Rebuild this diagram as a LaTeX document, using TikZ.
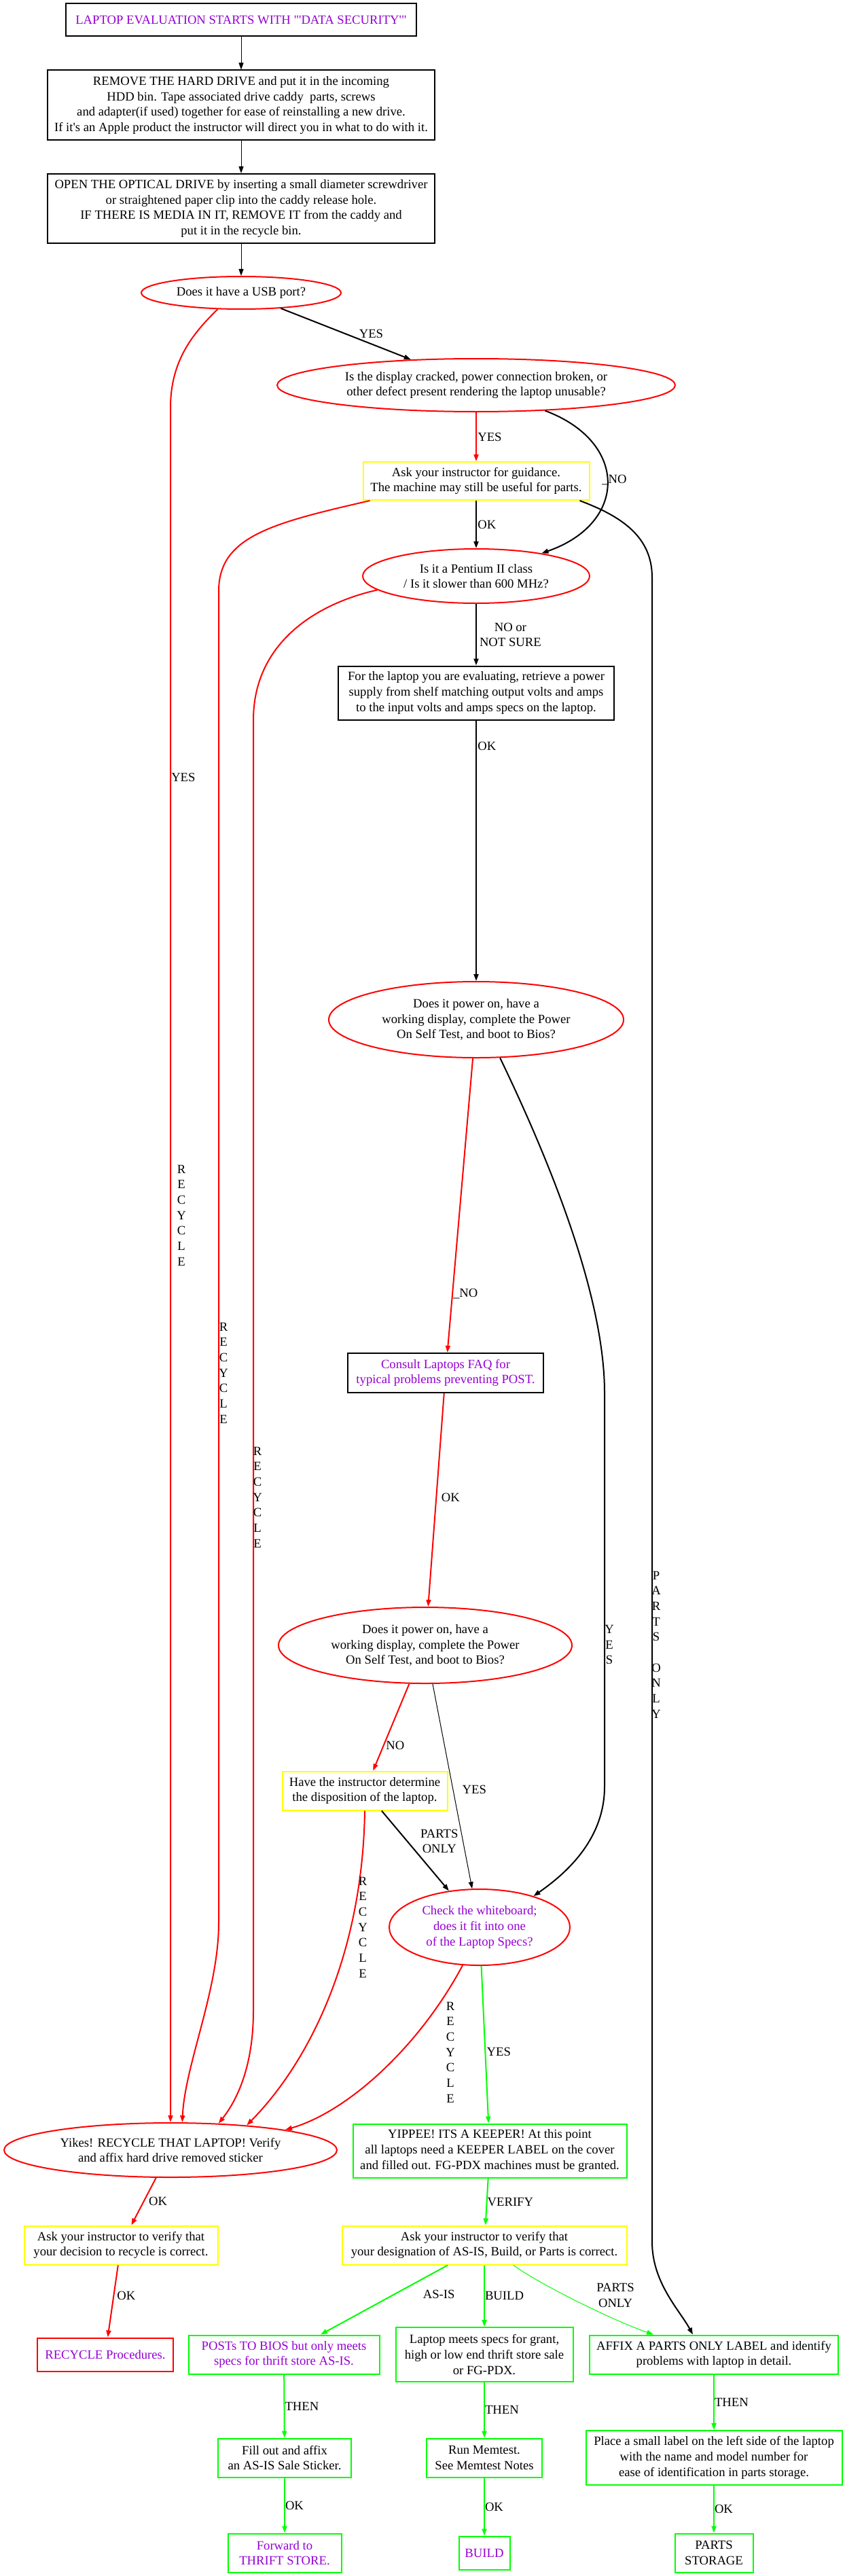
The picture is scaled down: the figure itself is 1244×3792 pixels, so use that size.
\documentclass[tikz,border=0pt]{standalone}
\usepackage{fontspec}
\newfontfamily\gvfont{Liberation Serif}
\usetikzlibrary{arrows.meta,shapes.geometric}
\definecolor{gvpurple}{HTML}{9400D3}
\definecolor{gvgreen}{HTML}{00FF00}
\definecolor{gvyellow}{HTML}{FFFF00}
\definecolor{gvred}{HTML}{FF0000}
\newcommand{\recycleword}{R\\E\\C\\Y\\C\\L\\E}

\begin{document}
\begin{tikzpicture}[x=0.75pt, y=-0.75pt,
    every node/.style={font=\gvfont\fontsize{14}{17}\selectfont, inner sep=0pt, align=center},
    box/.style={draw=#1, rectangle, line width=1.5pt},
    oval/.style={draw=gvred, ellipse, line width=1.5pt},
    hot/.style={text=gvpurple},
    link/.style={draw=#1, line width=1.5pt, -{Triangle[length=7.5pt,width=5.25pt]}},
    thinlink/.style={draw=#1, line width=0.75pt, -{Triangle[length=7.5pt,width=5.25pt]}},
    lbl/.style={inner sep=0pt}]
    \useasboundingbox (0,0) rectangle (1244,3792);

    % data security
    \node[box=black, hot, minimum width=387pt, minimum height=36pt] (start) at (355,29) {LAPTOP EVALUATION STARTS WITH "'DATA SECURITY'"};
    \node[box=black, minimum width=427.5pt, minimum height=77.25pt] (remove) at (355,155) {REMOVE THE HARD DRIVE and put it in the incoming\\ HDD bin. Tape associated drive caddy~ parts, screws\\ and adapter(if used) together for ease of reinstalling a new drive.\\ If it's an Apple product the instructor will direct you in what to do with it.};
    \node[box=black, minimum width=427.5pt, minimum height=76.5pt] (optical) at (355,307) {OPEN THE OPTICAL DRIVE by inserting a small diameter screwdriver\\ or straightened paper clip into the caddy release hole.\\ IF THERE IS MEDIA IN IT, REMOVE IT from the caddy and\\ put it in the recycle bin.};
    \node[oval, minimum width=220.5pt, minimum height=36pt] (usb) at (355,431) {Does it have a USB port?};

    % checks
    \node[oval, minimum width=439.5pt, minimum height=58.5pt] (display) at (701,567) {Is the display cracked, power connection broken, or\\ other defect present rendering the laptop unusable?};
    \node[box=gvyellow, minimum width=249.75pt, minimum height=42pt] (askguide) at (701,708) {Ask your instructor for guidance.\\ The machine may still be useful for parts.};
    \node[oval, minimum width=250.5pt, minimum height=60pt] (pentium) at (701,848) {Is it a Pentium II class\\ / Is it slower than 600 MHz?};
    \node[box=black, minimum width=304.5pt, minimum height=59.25pt] (power) at (701,1020) {For the laptop you are evaluating, retrieve a power\\ supply from shelf matching output volts and amps\\ to the input volts and amps specs on the laptop.};
    \node[oval, minimum width=325.5pt, minimum height=84pt] (postone) at (701,1501) {Does it power on, have a\\ working display, complete the Power\\ On Self Test, and boot to Bios?};
    \node[box=black, hot, minimum width=216pt, minimum height=43.5pt] (consult) at (656,2021) {Consult Laptops FAQ for\\ typical problems preventing POST.};
    \node[oval, minimum width=324pt, minimum height=84pt] (posttwo) at (626,2422) {Does it power on, have a\\ working display, complete the Power\\ On Self Test, and boot to Bios?};
    \node[box=gvyellow, minimum width=182.25pt, minimum height=42.75pt] (have) at (537,2636) {Have the instructor determine\\ the disposition of the laptop.};
    \node[oval, hot, minimum width=199.5pt, minimum height=84pt] (board) at (706,2837) {Check the whiteboard;\\ does it fit into one\\ of the Laptop Specs?};

    % outcomes
    \node[oval, minimum width=367.5pt, minimum height=60pt] (yikes) at (251,3165) {Yikes! RECYCLE THAT LAPTOP! Verify\\ and affix hard drive removed sticker};
    \node[box=gvgreen, minimum width=302.25pt, minimum height=59.25pt] (keeper) at (721,3166) {YIPPEE! ITS A KEEPER! At this point\\ all laptops need a KEEPER LABEL on the cover\\ and filled out. FG-PDX machines must be granted.};
    \node[box=gvyellow, minimum width=213.75pt, minimum height=42.75pt] (verifyone) at (178,3305) {Ask your instructor to verify that\\ your decision to recycle is correct.};
    \node[box=gvyellow, minimum width=314.25pt, minimum height=42.75pt] (verifytwo) at (713,3305) {Ask your instructor to verify that\\ your designation of AS-IS, Build, or Parts is correct.};
    \node[box=gvred, hot, minimum width=150pt, minimum height=36.75pt] (recproc) at (155,3466) {RECYCLE Procedures.};
    \node[box=gvgreen, hot, minimum width=210.75pt, minimum height=42.75pt] (asis) at (418,3466) {POSTs TO BIOS but only meets\\ specs for thrift store AS-IS.};
    \node[box=gvgreen, minimum width=195.75pt, minimum height=60pt] (meets) at (713,3466) {Laptop meets specs for grant,\\ high or low end thrift store sale\\ or FG-PDX.};
    \node[box=gvgreen, minimum width=274.5pt, minimum height=42.75pt] (affix) at (1051,3466) {AFFIX A PARTS ONLY LABEL and identify\\ problems with laptop in detail.};
    \node[box=gvgreen, minimum width=147pt, minimum height=42.75pt] (fillout) at (419,3618) {Fill out and affix\\ an AS-IS Sale Sticker.};
    \node[box=gvgreen, minimum width=127.5pt, minimum height=42.75pt] (memtest) at (713,3618) {Run Memtest.\\ See Memtest Notes};
    \node[box=gvgreen, minimum width=282.75pt, minimum height=60pt] (placelabel) at (1051,3618) {Place a small label on the left side of the laptop\\ with the name and model number for\\ ease of identification in parts storage.};
    \node[box=gvgreen, hot, minimum width=125.25pt, minimum height=42.75pt] (thrift) at (419,3758) {Forward to\\ THRIFT STORE.};
    \node[box=gvgreen, hot, minimum width=56.25pt, minimum height=36.75pt] (build) at (713,3758) {BUILD};
    \node[box=gvgreen, minimum width=86.25pt, minimum height=42.75pt] (storage) at (1051,3758) {PARTS\\ STORAGE};

    % straight connectors
    \draw[thinlink=black] (start) -- (remove);
    \draw[thinlink=black] (remove) -- (optical);
    \draw[thinlink=black] (optical) -- (usb);
    \draw[link=black] (usb) -- (display) node[pos=.5, right=14pt] {YES};
    \draw[link=gvred] (display) -- (askguide) node[pos=.5, right=1pt] {YES};
    \draw[link=black] (askguide) -- (pentium) node[pos=.5, right=1pt] {OK};
    \draw[link=black] (pentium) -- (power) node[pos=.5, right=3pt] {NO or\\ NOT SURE};
    \draw[link=black] (power) -- (postone) node[pos=.1, right=1pt] {OK};
    \draw[link=gvred] (postone) -- (consult) node[pos=.8, right=0pt] {\_NO};
    \draw[link=gvred] (consult) -- (posttwo) node[pos=.49, right=5pt] {OK};
    \draw[link=gvred] (posttwo) -- (have) node[pos=.71, right=2pt] {NO};
    \draw[thinlink=black] (posttwo) -- (board) node[pos=.515, right=10pt] {YES};
    \draw[link=black] (have) -- (board) node[pos=.38, right=14pt] {PARTS\\ ONLY};
    \draw[link=gvgreen] (board) -- (keeper) node[pos=.547, right=1pt] {YES};
    \draw[link=gvred] (yikes) -- (verifyone) node[pos=.5, right=5pt] {OK};
    \draw[link=gvgreen] (keeper) -- (verifytwo) node[pos=.5, right=0pt] {VERIFY};
    \draw[link=gvred] (verifyone) -- (recproc) node[pos=.42, right=3pt] {OK};
    \draw[link=gvgreen] (verifytwo) -- (asis) node[pos=.42, right=31pt] {AS-IS};
    \draw[link=gvgreen] (verifytwo) -- (meets) node[pos=.5, right=0pt] {BUILD};
    \draw[link=gvgreen] (asis) -- (fillout) node[pos=.5, right=0pt] {THEN};
    \draw[link=gvgreen] (meets) -- (memtest) node[pos=.5, right=0pt] {THEN};
    \draw[link=gvgreen] (affix) -- (placelabel) node[pos=.5, right=0pt] {THEN};
    \draw[link=gvgreen] (fillout) -- (thrift) node[pos=.5, right=0pt] {OK};
    \draw[link=gvgreen] (memtest) -- (build) node[pos=.5, right=0pt] {OK};
    \draw[link=gvgreen] (placelabel) -- (storage) node[pos=.5, right=0pt] {OK};

    % curved connectors
    \draw[link=black] (display) .. controls (925,650) and (925,770) .. (pentium);
    \draw[link=black] ([xshift=-11.25pt]askguide.south east) .. controls (915,760) and (960,790) .. (960,850) -- (960,3300) .. controls (960,3360) and (1000,3400) .. ([xshift=-23.25pt]affix.north);
    \draw[thinlink=gvgreen] ([xshift=32.25pt]verifytwo.south) .. controls (790,3360) and (900,3415) .. ([xshift=-66.75pt]affix.north);
    \draw[link=black] (postone.302) .. controls (800,1690) and (890,1900) .. (890,2050) -- (890,2630) .. controls (890,2710) and (830,2760) .. (board.30);
    \draw[link=gvred] (usb.215) .. controls (285,490) and (251,530) .. (251,600) -- (yikes.north);
    \draw[link=gvred] ([xshift=8.25pt]askguide.south west) .. controls (400,770) and (322,790) .. (322,870) -- (322,2830) .. controls (322,2930) and (272,3040) .. (yikes.67);
    \draw[link=gvred] (pentium.188) .. controls (460,890) and (373,950) .. (373,1060) -- (373,2960) .. controls (373,3040) and (350,3090) .. (yikes.29);
    \draw[link=gvred] (have.south) .. controls (534,2870) and (460,3030) .. (yikes.18);
    \draw[link=gvred] (board.246) .. controls (620,3008) and (516,3107) .. (yikes.10);

    % labels of the curved connectors
    \node[lbl, anchor=west] (lblNoDisplay) at (886,707) {\_NO};
    \node[lbl, anchor=west] (lblYesUsb) at (252,1144) {YES};
    \node[lbl] (lblRecUsb) at (267,1789) {\recycleword};
    \node[lbl] (lblRecAsk) at (329,2021) {\recycleword};
    \node[lbl] (lblRecPentium) at (379,2204) {\recycleword};
    \node[lbl] (lblRecHave) at (534,2837) {\recycleword};
    \node[lbl] (lblRecBoard) at (663,3021) {\recycleword};
    \node[lbl] (lblYesPost) at (897,2421) {Y\\E\\S};
    \node[lbl] (lblPartsAsk) at (966,2421) {P\\A\\R\\T\\S\\ \strut\\O\\N\\L\\Y};
    \node[lbl] (lblPartsVerify) at (906,3379) {PARTS\\ ONLY};
\end{tikzpicture}
\end{document}
